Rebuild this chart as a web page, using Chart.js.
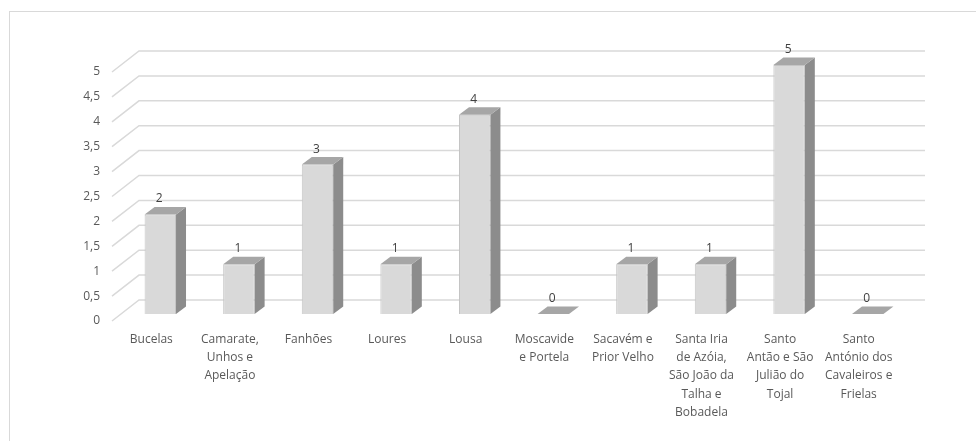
<!DOCTYPE html>
<html>
<head>
<meta charset="utf-8">
<script src="https://cdn.jsdelivr.net/npm/chart.js@4"></script>
<style>
  html, body { margin: 0; padding: 0; background: #fff; }
  #wrap { position: relative; width: 976px; height: 441px; overflow: hidden; }
  #frame { position: absolute; left: 9px; top: 11px; width: 1100px; height: 600px; border: 1px solid #d9d9d9; }
  canvas { position: absolute; left: 0; top: 0; }
</style>
</head>
<body>
<div id="wrap">
  <div id="frame"></div>
  <canvas id="chart" width="976" height="441"></canvas>
</div>
<script>
// Data
const categories = [
    'Bucelas',
    'Camarate, Unhos e Apelação',
    'Fanhões',
    'Loures',
    'Lousa',
    'Moscavide e Portela',
    'Sacavém e Prior Velho',
    'Santa Iria de Azóia, São João da Talha e Bobadela',
    'Santo Antão e São Julião do Tojal',
    'Santo António dos Cavaleiros e Frielas'
];
const tickLabels = [
    ['Bucelas'],
    ['Camarate,', 'Unhos e', 'Apelação'],
    ['Fanhões'],
    ['Loures'],
    ['Lousa'],
    ['Moscavide', 'e Portela'],
    ['Sacavém e', 'Prior Velho'],
    ['Santa Iria', 'de Azóia,', 'São João da', 'Talha e', 'Bobadela'],
    ['Santo', 'Antão e São', 'Julião do', 'Tojal'],
    ['Santo', 'António dos', 'Cavaleiros e', 'Frielas']
];
const values = [2, 1, 3, 1, 4, 0, 1, 1, 5, 0];
const yTicks = [0, 0.5, 1, 1.5, 2, 2.5, 3, 3.5, 4, 4.5, 5];

// 3D look: depth of the back wall, where the bar sits, how deep the bar is
const WALL_DX = 27, WALL_DY = -21;
const BAR_FX = 9, BAR_FY = -7;
const BAR_DX = 10, BAR_DY = -7.5;

const textColor = '#595959';
const fontFamily = '"Open Sans", "Noto Sans", sans-serif';

const fake3d = {
    id: 'fake3d',
    beforeDatasetsDraw(chart) {
        const ctx = chart.ctx;
        const area = chart.chartArea;
        const yScale = chart.scales.y;
        ctx.save();
        ctx.strokeStyle = '#d9d9d9';
        ctx.lineWidth = 1.5;
        yTicks.forEach(v => {
            const y = yScale.getPixelForValue(v);
            ctx.beginPath();
            ctx.moveTo(area.left, y);
            ctx.lineTo(area.left + WALL_DX, y + WALL_DY);
            ctx.lineTo(area.right + WALL_DX, y + WALL_DY);
            ctx.stroke();
        });
        ctx.restore();
        // shift the front faces back into the middle of the floor
        ctx.save();
        ctx.translate(BAR_FX, BAR_FY);
    },
    afterDatasetsDraw(chart) {
        const ctx = chart.ctx;
        ctx.restore();
        const meta = chart.getDatasetMeta(0);
        ctx.save();
        meta.data.forEach((bar, i) => {
            const p = bar.getProps(['x', 'y', 'base', 'width'], true);
            const left = p.x - p.width / 2 + BAR_FX;
            const right = p.x + p.width / 2 + BAR_FX;
            const top = p.y + BAR_FY;
            const bottom = p.base + BAR_FY;

            // side face
            if (bottom - top > 0.5) {
                ctx.fillStyle = '#8c8c8c';
                ctx.beginPath();
                ctx.moveTo(right, top);
                ctx.lineTo(right + BAR_DX, top + BAR_DY);
                ctx.lineTo(right + BAR_DX, bottom + BAR_DY);
                ctx.lineTo(right, bottom);
                ctx.closePath();
                ctx.fill();
            }
            // top face
            ctx.fillStyle = '#a6a6a6';
            ctx.beginPath();
            ctx.moveTo(left, top);
            ctx.lineTo(right, top);
            ctx.lineTo(right + BAR_DX, top + BAR_DY);
            ctx.lineTo(left + BAR_DX, top + BAR_DY);
            ctx.closePath();
            ctx.fill();

            // value label
            ctx.fillStyle = '#404040';
            ctx.font = '12px ' + fontFamily;
            ctx.textAlign = 'center';
            ctx.textBaseline = 'middle';
            ctx.fillText(String(values[i]), (left + right) / 2 - 1, top - 15.5);
        });
        ctx.restore();
    }
};

new Chart(document.getElementById('chart'), {
    type: 'bar',
    data: {
        labels: tickLabels,
        datasets: [{
            label: 'Freguesias',
            data: values,
            backgroundColor: '#d9d9d9',
            borderColor: '#c4c4c4',
            borderWidth: 1,
            barPercentage: 0.4,
            categoryPercentage: 1.0,
            clip: false
        }]
    },
    options: {
        responsive: false,
        animation: false,
        layout: { padding: { left: 0, right: 78, top: 72, bottom: 0 } },
        plugins: {
            legend: { display: false },
            tooltip: { enabled: false }
        },
        scales: {
            x: {
                grid: { display: false, drawTicks: false },
                border: { display: false },
                ticks: {
                    color: textColor,
                    font: { family: fontFamily, size: 12, lineHeight: 1.53 },
                    padding: 9,
                    maxRotation: 0,
                    autoSkip: false
                },
                afterFit: s => { s.height = 120; }
            },
            y: {
                min: 0,
                max: 5,
                grid: { display: false, drawTicks: false },
                border: { display: false },
                ticks: {
                    stepSize: 0.5,
                    color: textColor,
                    font: { family: fontFamily, size: 12 },
                    padding: 12,
                    callback: v => String(v).replace('.', ',')
                },
                afterFit: s => { s.width = 112; }
            }
        }
    },
    plugins: [fake3d]
});
</script>
</body>
</html>
